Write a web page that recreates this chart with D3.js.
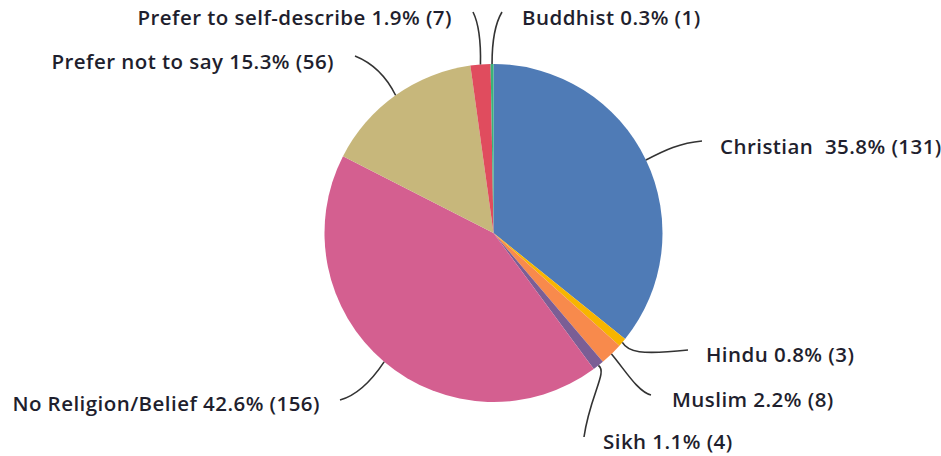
<!DOCTYPE html>
<html>
<head>
<meta charset="utf-8">
<script src="https://cdn.jsdelivr.net/npm/d3@7"></script>
<style>
  html, body { margin: 0; padding: 0; background: #ffffff; }
  svg { display: block; }
  .lbl { font-family: "Open Sans", "Noto Sans", sans-serif; font-weight: 600; font-size: 20.5px; letter-spacing: 0.45px; fill: #1f1f2e; }
</style>
</head>
<body>
<svg id="chart" width="941" height="456"></svg>
<script>
// Religion / belief breakdown of respondents
const categories = ["Christian", "Hindu", "Muslim", "Sikh", "No Religion/Belief",
                    "Prefer not to say", "Prefer to self-describe", "Buddhist"];
const counts = [131, 3, 8, 4, 156, 56, 7, 1];
const percentLabels = ["35.8%", "0.8%", "2.2%", "1.1%", "42.6%", "15.3%", "1.9%", "0.3%"];
const colors = ["#4f7bb6", "#f7b500", "#f88a4c", "#7b5e95", "#d45f90", "#c7b77b", "#e04c5e", "#39b37a"];

const svg = d3.select("#chart");
const cx = 493.5, cy = 233, radius = 169;

const pie = d3.pie().sort(null).value(d => d.count);
const arc = d3.arc().innerRadius(0).outerRadius(radius);

const rows = categories.map((c, i) => ({ name: c, count: counts[i], pct: percentLabels[i], color: colors[i] }));
const arcs = pie(rows);

const g = svg.append("g").attr("transform", `translate(${cx},${cy})`);
g.selectAll("path.slice")
  .data(arcs)
  .join("path")
  .attr("class", "slice")
  .attr("d", arc)
  .attr("fill", d => d.data.color);

// Label placement: leader end point, bezier controls, text anchor
const layout = {
  "Christian":               { c1: [665, 150], c2: [680, 143], end: [702, 141], text: [720, 147], anchor: "start", sep: "  " },
  "Hindu":                   { c1: [628, 352], c2: [640, 355], end: [688, 350], text: [706, 355], anchor: "start" },
  "Muslim":                  { c1: [625, 370], c2: [638, 392], end: [651, 395], text: [672, 400], anchor: "start" },
  "Sikh":                    { c1: [608, 372], c2: [590, 395], end: [584, 437], text: [603, 442], anchor: "start" },
  "No Religion/Belief":      { c1: [372, 380], c2: [358, 395], end: [340, 400], text: [320, 404], anchor: "end" },
  "Prefer not to say":       { c1: [388, 80], c2: [375, 64], end: [355, 56], text: [334, 62], anchor: "end" },
  "Prefer to self-describe": { c1: [481, 40], c2: [478, 22], end: [473, 12], text: [452, 18], anchor: "end" },
  "Buddhist":                { c1: [492, 40], c2: [496, 22], end: [502, 12], text: [522, 18], anchor: "start" }
};

const leaders = svg.append("g");
arcs.forEach(a => {
  const L = layout[a.data.name];
  const mid = (a.startAngle + a.endAngle) / 2;
  const sx = cx + radius * Math.sin(mid);
  const sy = cy - radius * Math.cos(mid);
  const p = d3.path();
  p.moveTo(sx, sy);
  p.bezierCurveTo(L.c1[0], L.c1[1], L.c2[0], L.c2[1], L.end[0], L.end[1]);
  leaders.append("path")
    .attr("d", p.toString())
    .attr("fill", "none")
    .attr("stroke", "#333333")
    .attr("stroke-width", 1.6);

  svg.append("text")
    .attr("class", "lbl")
    .attr("x", L.text[0])
    .attr("y", L.text[1])
    .attr("dy", "0.36em")
    .attr("text-anchor", L.anchor)
    .attr("xml:space", "preserve")
    .text(`${a.data.name}${L.sep || " "}${a.data.pct} (${a.data.count})`);
});
</script>
</body>
</html>
